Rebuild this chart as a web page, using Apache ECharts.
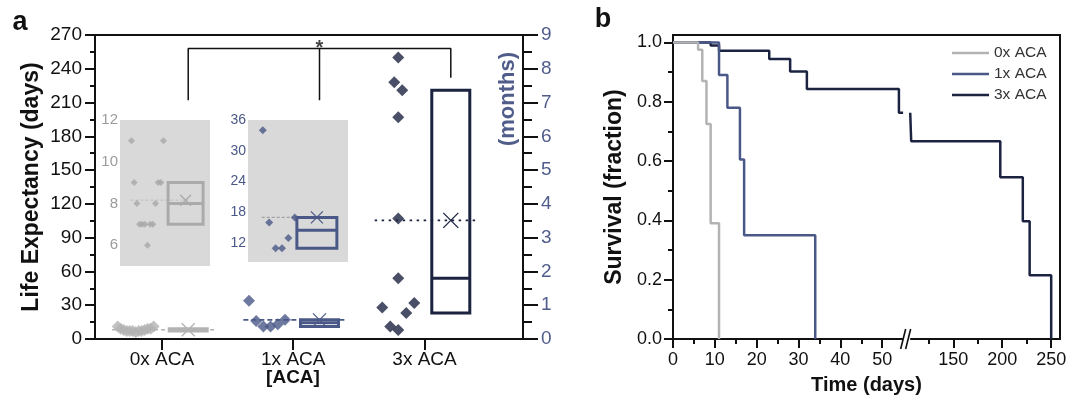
<!DOCTYPE html>
<html>
<head>
<meta charset="utf-8">
<script src="https://cdn.jsdelivr.net/npm/echarts@6/dist/echarts.min.js"></script>
<style>
  html, body { margin: 0; padding: 0; background: #fff; }
  #chart { width: 1069px; height: 397px; }
</style>
</head>
<body>
<div id="chart"></div>
<script>
// ---- data, panel a: life expectancy (days) per dose
const groups = ['0x ACA', '1x ACA', '3x ACA']
const days0x = [6, 7, 7, 7, 7, 7, 8, 8, 9, 9, 9, 11, 11]
const days1x = [11, 11, 13, 16, 17, 34]
const days3x = [8, 11, 23, 28, 32, 54, 107, 197, 221, 228, 250]
const inset0Ticks = [6, 8, 10, 12]
const inset1Ticks = [12, 18, 24, 30, 36]

// ---- data, panel b: survival curves
const surv0Days = [0, 6, 7, 8, 9, 11]
const surv0 = [1, 0.975, 0.87, 0.725, 0.39, 0]
const surv1Days = [0, 11, 13, 16, 17, 34]
const surv1 = [1, 0.89, 0.78, 0.605, 0.35, 0]
const surv3Days = [0, 9, 11, 23, 28, 32, 54, 107, 198, 221, 228, 250]
const surv3 = [1, 0.99, 0.972, 0.944, 0.902, 0.843, 0.763, 0.667, 0.545, 0.397, 0.215, 0]
const timeMajor = [0, 10, 20, 30, 40, 50, 150, 200, 250]
const timeMinor = [5, 15, 25, 35, 45, 125, 175, 225]
const survTicks = [0, 0.2, 0.4, 0.6, 0.8, 1.0]
const survMinor = [0.1, 0.3, 0.5, 0.7, 0.9]

const FONT = '"Liberation Sans", Arial, Helvetica, sans-serif'
const INK = '#111'
const C0 = '#b3b3b3', C1 = '#4a5887', C3 = '#1b2340', SLATE = '#505d8b'
const axisLine = { show: true, lineStyle: { color: INK, width: 2 } }
const tickStyle = { color: INK, width: 2 }

// panel a geometry
const A = { left: 95, top: 35, width: 428, height: 304 }
const X_MIN = 0.49, X_MAX = 3.75
const PX_PER_CAT = A.width / (X_MAX - X_MIN)
const PX_PER_DAY = A.height / 270

// broken time axis: 0-55 days full scale, 106+ days compressed
const BREAK_LO = 55, BREAK_HI = 106, BREAK_GAP = 1.7, LATE_SCALE = 0.234, TIME_END = 259
const tx = d => d <= BREAK_LO ? d : BREAK_LO + BREAK_GAP + (d - BREAK_HI) * LATE_SCALE
const untx = u => u <= BREAK_LO + 0.5 ? u : BREAK_HI + (u - BREAK_LO - BREAK_GAP) / LATE_SCALE

function stats(v) {
  const s = [...v].sort((a, b) => a - b), n = s.length
  const med = a => a.length % 2 ? a[(a.length - 1) / 2] : (a[a.length / 2 - 1] + a[a.length / 2]) / 2
  return {
    q1: med(s.slice(0, Math.floor(n / 2))),
    med: med(s),
    q3: med(s.slice(Math.ceil(n / 2))),
    mean: s.reduce((a, b) => a + b, 0) / n,
  }
}

// simple dot-plot layout: close values spread left/right around the centre
function swarm(values, cat, off, maxStep, spread) {
  const s = [...values].sort((a, b) => a - b)
  const clusters = []
  s.forEach((d, i) => {
    if (i && (d - s[i - 1]) * PX_PER_DAY < 20) clusters[clusters.length - 1].push(d)
    else clusters.push([d])
  })
  const pts = []
  clusters.forEach(c => {
    const step = c.length > 1 ? Math.min(maxStep, spread / (c.length - 1)) : 0
    c.forEach((d, i) => {
      const side = i % 2 ? -1 : 1
      const slot = c.length % 2 ? Math.ceil(i / 2) * side : (Math.floor(i / 2) + 0.5) * side
      pts.push([cat + off + slot * step / PX_PER_CAT, d])
    })
  })
  return pts
}

function boxSeries(ax, ay, item, color, w, lw, xs) {
  return {
    type: 'custom', xAxisIndex: ax, yAxisIndex: ay, data: [item], z: 4, silent: true,
    renderItem(params, api) {
      const x = api.value(0)
      const top = api.coord([x, api.value(3)])
      const bot = api.coord([x, api.value(1)])
      const mid = api.coord([x, api.value(2)])
      const mn = api.coord([x, api.value(4)])
      const h = xs / 2
      const thin = { stroke: color, lineWidth: 1.3 }
      return {
        type: 'group',
        children: [
          { type: 'rect', shape: { x: top[0] - w / 2, y: top[1], width: w, height: bot[1] - top[1] },
            style: { stroke: color, fill: 'none', lineWidth: lw } },
          { type: 'line', shape: { x1: top[0] - w / 2, y1: mid[1], x2: top[0] + w / 2, y2: mid[1] },
            style: { stroke: color, lineWidth: lw } },
          { type: 'line', shape: { x1: mn[0] - h, y1: mn[1] - h, x2: mn[0] + h, y2: mn[1] + h }, style: thin },
          { type: 'line', shape: { x1: mn[0] - h, y1: mn[1] + h, x2: mn[0] + h, y2: mn[1] - h }, style: thin },
        ],
      }
    },
  }
}

function groupSeries(values, cat, color, ax, ay, look) {
  const st = stats(values)
  return [
    {
      type: 'line', xAxisIndex: ax, yAxisIndex: ay, silent: true, symbol: 'none', z: 2,
      data: [[cat + look.lineFrom, st.mean], [cat + look.lineTo, st.mean]],
      lineStyle: { color: look.lineColor, width: look.lineWidth, type: look.dash },
    },
    {
      type: 'scatter', xAxisIndex: ax, yAxisIndex: ay, silent: true, z: 3,
      data: swarm(values, cat, look.ptOff, look.maxStep, look.spread),
      symbol: 'diamond', symbolSize: look.size, itemStyle: { color: look.ptColor || color },
    },
    boxSeries(ax, ay, [cat + look.boxOff, st.q1, st.med, st.q3, st.mean], color, look.boxW, look.boxLw, look.xSize),
  ]
}

const mainLook = (lineColor, dash, xSize) => ({
  lineFrom: -0.38, lineTo: 0.4, lineColor, lineWidth: 1.6, dash,
  ptOff: -0.2, maxStep: 8, spread: 36, size: 12, boxOff: 0.2, boxW: 38, boxLw: 3, xSize,
})
const insetLook = (lineColor, ptColor, size, boxW, xSize) => ({
  lineFrom: -0.24, lineTo: 0.2, lineColor, lineWidth: 1.4, dash: [3, 2],
  ptOff: -0.11, maxStep: 7, spread: 32, size, ptColor, boxOff: 0.18, boxW, boxLw: 3, xSize,
})

function steps(ds, ss) {
  const pts = [[tx(ds[0]), ss[0]]]
  for (let i = 1; i < ds.length; i++) {
    const a = ds[i - 1], b = ds[i], s = ss[i - 1]
    if (a < BREAK_LO && b > BREAK_HI) {
      pts.push([tx(BREAK_LO), s], [tx(BREAK_LO) + BREAK_GAP / 2, null], [tx(BREAK_HI), s])
    }
    pts.push([tx(b), s], [tx(b), ss[i]])
  }
  return pts
}

const insetGrid = (left, top, width, height) => ({
  left, top, width, height, show: true, backgroundColor: '#d9d9d9', borderWidth: 0, outerBoundsMode: 'none',
})
const insetX = (gridIndex, left, width) => {
  const min = X_MIN + (left - A.left) / PX_PER_CAT
  return { type: 'value', gridIndex, min, max: min + width / PX_PER_CAT, show: false }
}

const BRACKET_TOP = 258, BRACKET_FOOT = [212, 212, 232]

const chart = echarts.init(document.getElementById('chart'), null, { renderer: 'canvas' })
const option = {
  animation: false,
  textStyle: { fontFamily: FONT },
  legend: {
    data: groups.map(name => ({ name, icon: 'rect' })),
    left: 952, top: 45, padding: 0, orient: 'vertical', selectedMode: false,
    itemWidth: 37, itemHeight: 2.5, itemGap: 5,
    textStyle: { fontSize: 15.5, color: '#333', fontFamily: FONT, lineHeight: 15 },
  },
  grid: [
    { left: A.left, top: A.top, width: A.width, height: A.height, show: true, borderColor: INK, borderWidth: 2, outerBoundsMode: 'none' },
    insetGrid(120, 120, 90, 146),
    insetGrid(248, 120, 100, 142),
    { left: 673, top: 35, width: 387, height: 304, show: true, borderColor: INK, borderWidth: 2, outerBoundsMode: 'none' },
  ],
  xAxis: [
    {
      type: 'value', gridIndex: 0, min: X_MIN, max: X_MAX, splitLine: { show: false }, axisLine,
      axisTick: { customValues: [1, 2, 3], length: 11, lineStyle: tickStyle },
      axisLabel: { customValues: [1, 2, 3], formatter: v => groups[Math.round(v) - 1], fontSize: 19, color: INK, margin: 11 },
    },
    insetX(1, 120, 90),
    insetX(2, 248, 100),
    {
      type: 'value', gridIndex: 3, min: 0, max: tx(TIME_END), splitLine: { show: false }, axisLine,
      axisTick: { customValues: timeMajor.map(tx), length: 9, lineStyle: tickStyle },
      axisLabel: { customValues: timeMajor.map(tx), formatter: v => String(Math.round(untx(v))), fontSize: 18, color: INK, margin: 12 },
      name: 'Time (days)', nameLocation: 'middle', nameGap: 36,
      nameTextStyle: { fontSize: 20, fontWeight: 'bold', color: INK },
    },
    {
      type: 'value', gridIndex: 3, min: 0, max: tx(TIME_END), position: 'bottom', splitLine: { show: false },
      axisLine: { show: false }, axisLabel: { show: false },
      axisTick: { customValues: timeMinor.map(tx), length: 5, lineStyle: tickStyle },
    },
  ],
  yAxis: [
    {
      type: 'value', gridIndex: 0, min: 0, max: 270, interval: 30, splitLine: { show: false }, axisLine,
      axisTick: { length: 10, lineStyle: tickStyle },
      minorTick: { show: true, splitNumber: 2, length: 5, lineStyle: tickStyle },
      axisLabel: { fontSize: 19, color: INK, margin: 13 },
      name: 'Life Expectancy (days)', nameLocation: 'middle', nameGap: 52,
      nameTextStyle: { fontSize: 23, fontWeight: 'bold', color: INK },
    },
    {
      type: 'value', gridIndex: 0, position: 'right', min: 0, max: 9, interval: 1, splitLine: { show: false }, axisLine,
      axisTick: { length: 15, lineStyle: tickStyle },
      minorTick: { show: true, splitNumber: 2, length: 9, lineStyle: tickStyle },
      axisLabel: { fontSize: 19, color: SLATE, margin: 18 },
    },
    {
      type: 'value', gridIndex: 1, min: 5, max: 12, splitLine: { show: false },
      axisLine: { show: false }, axisTick: { show: false },
      axisLabel: { customValues: inset0Ticks, fontSize: 15, color: '#9b9b9b', margin: 2 },
    },
    {
      type: 'value', gridIndex: 2, min: 8.3, max: 36, splitLine: { show: false },
      axisLine: { show: false }, axisTick: { show: false },
      axisLabel: { customValues: inset1Ticks, fontSize: 14, color: C1, margin: 2 },
    },
    {
      type: 'value', gridIndex: 3, min: 0, max: 1.025, splitLine: { show: false }, axisLine,
      axisTick: { customValues: survTicks, length: 9, lineStyle: tickStyle },
      axisLabel: { customValues: survTicks, formatter: v => v.toFixed(1), fontSize: 18, color: INK, margin: 11 },
      name: 'Survival (fraction)', nameLocation: 'middle', nameGap: 47,
      nameTextStyle: { fontSize: 23, fontWeight: 'bold', color: INK },
    },
    {
      type: 'value', gridIndex: 3, min: 0, max: 1.025, position: 'left', splitLine: { show: false },
      axisLine: { show: false }, axisLabel: { show: false },
      axisTick: { customValues: survMinor, length: 5, lineStyle: tickStyle },
    },
  ],
  series: [
    ...groupSeries(days0x, 1, C0, 0, 0, mainLook(C0, [4, 3], 13)),
    ...groupSeries(days1x, 2, C1, 0, 0, mainLook(C1, [5, 3], 13)),
    ...groupSeries(days3x, 3, C3, 0, 0, mainLook(C3, [2.5, 4.5], 15)),
    ...groupSeries(days0x, 1, '#aaaaaa', 1, 2, insetLook('#c6c6c6', '#a8a8a8', 7, 35, 11)),
    ...groupSeries(days1x, 2, C1, 2, 3, insetLook('#a2a2a8', C1, 8, 40, 12)),
    {
      type: 'line', xAxisIndex: 0, yAxisIndex: 0, silent: true, symbol: 'none',
      data: [[1.2, BRACKET_FOOT[0]], [1.2, BRACKET_TOP], [3.2, BRACKET_TOP], [3.2, BRACKET_FOOT[2]]],
      lineStyle: { color: INK, width: 1.5 },
    },
    {
      type: 'line', xAxisIndex: 0, yAxisIndex: 0, silent: true, symbol: 'none',
      data: [[2.2, BRACKET_TOP], [2.2, BRACKET_FOOT[1]]],
      lineStyle: { color: INK, width: 1.5 },
    },
    {
      type: 'scatter', xAxisIndex: 0, yAxisIndex: 0, silent: true, symbolSize: 1,
      itemStyle: { color: 'rgba(0,0,0,0)' }, data: [[2.2, BRACKET_TOP]],
      label: { show: true, formatter: '*', position: 'top', distance: -10, fontSize: 20, fontWeight: 'bold', color: INK },
    },
    {
      type: 'line', name: groups[0], xAxisIndex: 3, yAxisIndex: 4, data: steps(surv0Days, surv0),
      symbol: 'none', z: 5, lineStyle: { color: C0, width: 2.5 }, itemStyle: { color: C0 },
    },
    {
      type: 'line', name: groups[1], xAxisIndex: 3, yAxisIndex: 4, data: steps(surv1Days, surv1),
      symbol: 'none', z: 4, lineStyle: { color: C1, width: 2.5 }, itemStyle: { color: C1 },
    },
    {
      type: 'line', name: groups[2], xAxisIndex: 3, yAxisIndex: 4, data: steps(surv3Days, surv3),
      symbol: 'none', z: 3, lineStyle: { color: C3, width: 2.5 }, itemStyle: { color: C3 },
    },
  ],
  graphic: {
    elements: [
      { type: 'text', id: 'pa', x: 20, y: 23, style: { text: 'a', font: 'bold 27px ' + FONT, fill: INK, align: 'center', verticalAlign: 'middle' } },
      { type: 'text', id: 'pb', x: 603, y: 20, style: { text: 'b', font: 'bold 27px ' + FONT, fill: INK, align: 'center', verticalAlign: 'middle' } },
      { type: 'text', id: 'months', x: 508, y: 99, rotation: Math.PI / 2,
        style: { text: '(months)', font: 'bold 22px ' + FONT, fill: SLATE, align: 'center', verticalAlign: 'middle' } },
      { type: 'text', id: 'aca', x: 293, y: 378, style: { text: '[ACA]', font: 'bold 19px ' + FONT, fill: INK, align: 'center', verticalAlign: 'middle' } },
    ],
  },
}
chart.setOption(option)

// break mark on the time axis
const bx = chart.convertToPixel({ xAxisIndex: 3 }, tx(BREAK_LO) + BREAK_GAP / 2)
const by = chart.convertToPixel({ yAxisIndex: 4 }, 0)
chart.setOption({
  graphic: {
    elements: [
      { type: 'rect', id: 'gapfill', shape: { x: bx - 3.5, y: by - 3, width: 7, height: 6 }, style: { fill: '#fff' }, z: 100 },
      { type: 'line', id: 'slash1', shape: { x1: bx - 6, y1: by + 10, x2: bx - 1, y2: by - 10 }, style: { stroke: INK, lineWidth: 1.6 }, z: 101 },
      { type: 'line', id: 'slash2', shape: { x1: bx - 1, y1: by + 10, x2: bx + 4, y2: by - 10 }, style: { stroke: INK, lineWidth: 1.6 }, z: 101 },
    ],
  },
})
</script>
</body>
</html>
